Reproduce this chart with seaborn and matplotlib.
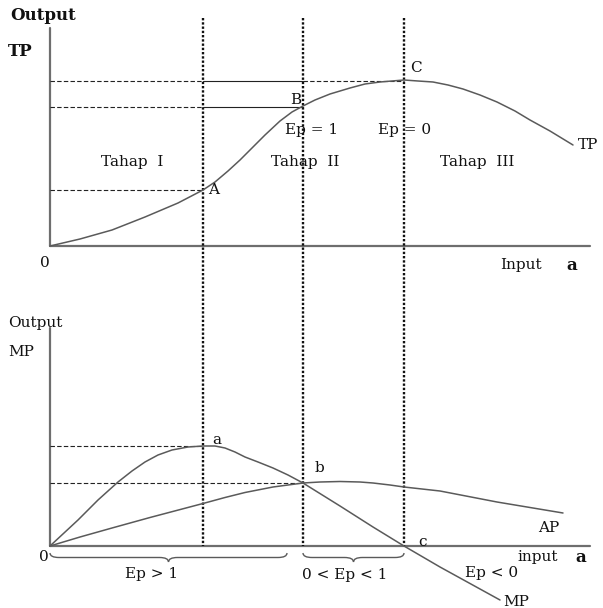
import matplotlib
matplotlib.use("Agg")
import matplotlib.pyplot as plt
import matplotlib.patches as mpatches
from matplotlib.path import Path
import seaborn as sns

# curves (x = input, y = image row, top panel then bottom panel)
TP_X = [50, 80, 112, 145, 178, 203, 215, 228, 240, 252, 265, 280, 292, 303, 315, 330,
        350, 365, 380, 392, 404, 418, 433, 448, 463, 480, 497, 515, 530, 550, 573]
TP_Y = [246, 239, 230, 217, 203, 190, 182, 171, 160, 148, 135, 121, 112, 106, 100, 94,
        88, 84, 82, 81, 80, 81, 82, 85, 89, 95, 102, 111, 120, 131, 145]

MP_X = [50, 64, 78, 98, 118, 132, 145, 158, 172, 188, 203, 215, 225, 235, 245, 258,
        273, 288, 303, 340, 373, 404, 440, 500]
MP_Y = [546, 533, 520, 500, 482, 471, 462, 455, 450, 447, 446, 446, 448, 452, 457, 462,
        468, 475, 483, 506, 527, 546, 567, 600]

AP_X = [50, 80, 112, 150, 203, 225, 245, 273, 303, 320, 340, 360, 373, 390, 404, 440, 497, 563]
AP_Y = [546, 537, 528, 517.5, 503.5, 497.5, 492.5, 487, 483, 482, 481.5, 482, 483, 485, 487, 491, 502, 513]

# key points
PT_A = (203, 190)
PT_B = (303, 107)
PT_C = (404, 81)
PT_a = (203, 446)
PT_b = (303, 483)
PT_c = (404, 546)

STAGES = ["Tahap  I", "Tahap  II", "Tahap  III"]
BRACE_LABELS = ["Ep > 1", "0 < Ep < 1", "Ep < 0"]

# layout
X0, X_END = 50, 590
TOP_BASE, TOP_TOP = 246, 28
BOT_BASE, BOT_TOP = 546, 328
VLINE_TOP = 18

sns.set_theme(style="white")
plt.rcParams["font.family"] = ["DejaVu Serif"]

fig = plt.figure(figsize=(6.03, 6.08), dpi=100)
ax = fig.add_axes([0, 0, 1, 1])
ax.set_xlim(0, 603)
ax.set_ylim(608, 0)
ax.axis("off")

axis_col = "#6e6e6e"
curve_col = "#5a5a5a"
guide_col = "#222222"
dash = (0, (4, 2))

# axes of both panels
for base, top in [(TOP_BASE, TOP_TOP), (BOT_BASE, BOT_TOP)]:
    ax.plot([X0, X0], [base, top], color=axis_col, lw=1.6)
    ax.plot([X0, X_END], [base, base], color=axis_col, lw=1.6)

# vertical stage borders
for px in [PT_A[0], PT_B[0], PT_C[0]]:
    ax.plot([px, px], [VLINE_TOP, BOT_BASE], color="#111111", lw=1.7, ls=(0, (1, 0.8)))

# guide lines, top panel
ax.plot([X0, PT_A[0]], [PT_C[1], PT_C[1]], color=guide_col, lw=0.8, ls=dash)
ax.plot([PT_A[0], PT_B[0]], [PT_C[1], PT_C[1]], color=guide_col, lw=0.8)
ax.plot([PT_B[0], PT_C[0]], [PT_C[1], PT_C[1]], color=guide_col, lw=0.8, ls=dash)
ax.plot([X0, PT_A[0]], [PT_B[1], PT_B[1]], color=guide_col, lw=0.8, ls=dash)
ax.plot([PT_A[0], PT_B[0]], [PT_B[1], PT_B[1]], color=guide_col, lw=0.8)
ax.plot([X0, PT_A[0]], [PT_A[1], PT_A[1]], color=guide_col, lw=0.8, ls=dash)

# guide lines, bottom panel
ax.plot([X0, PT_a[0]], [PT_a[1], PT_a[1]], color=guide_col, lw=0.8, ls=dash)
ax.plot([X0, PT_b[0]], [PT_b[1], PT_b[1]], color=guide_col, lw=0.8, ls=dash)

# curves
sns.lineplot(x=TP_X, y=TP_Y, sort=False, estimator=None, color=curve_col, lw=1.1, ax=ax)
sns.lineplot(x=MP_X, y=MP_Y, sort=False, estimator=None, color=curve_col, lw=1.1, ax=ax)
sns.lineplot(x=AP_X, y=AP_Y, sort=False, estimator=None, color=curve_col, lw=1.1, ax=ax)


def brace(x0, x1, y, h=9):
    xm = (x0 + x1) / 2
    r = min(h, (x1 - x0) / 4)
    verts = [(x0, y), (x0, y + h / 2), (x0 + r, y + h / 2), (xm - r, y + h / 2),
             (xm, y + h / 2), (xm, y + h), (xm, y + h / 2), (xm + r, y + h / 2),
             (x1 - r, y + h / 2), (x1, y + h / 2), (x1, y)]
    codes = [Path.MOVETO, Path.CURVE3, Path.CURVE3, Path.LINETO,
             Path.CURVE3, Path.CURVE3, Path.CURVE3, Path.CURVE3,
             Path.LINETO, Path.CURVE3, Path.CURVE3]
    ax.add_patch(mpatches.PathPatch(Path(verts, codes), fill=False, color=curve_col, lw=1.0))


brace(X0, 287, 553)
brace(PT_b[0], PT_c[0], 553)

fs = 11
ink = "#111111"
txt = dict(color=ink, fontsize=fs, va="center")

# top panel text
ax.text(10, 15, "Output", fontweight="bold", fontsize=12, ha="left", color=ink, va="center")
ax.text(8, 52, "TP", fontweight="bold", fontsize=12, ha="left", color=ink, va="center")
ax.text(45, 263, "0", ha="center", **txt)
ax.text(500, 265, "Input", ha="left", **txt)
ax.text(566, 265, "a", ha="left", fontweight="bold", color=ink, fontsize=fs + 1, va="center")
for cx, lab in zip([132, 305, 477], STAGES):
    ax.text(cx, 162, lab, ha="center", **txt)
ax.text(312, 130, "Ep = 1", ha="center", **txt)
ax.text(405, 130, "Ep = 0", ha="center", **txt)
ax.text(PT_A[0] + 5, PT_A[1], "A", ha="left", **txt)
ax.text(PT_B[0] - 2, PT_B[1] - 7, "B", ha="right", **txt)
ax.text(PT_C[0] + 6, PT_C[1] - 13, "C", ha="left", **txt)
ax.text(TP_X[-1] + 5, TP_Y[-1], "TP", ha="left", **txt)

# bottom panel text
ax.text(8, 323, "Output", ha="left", **txt)
ax.text(8, 352, "MP", ha="left", **txt)
ax.text(44, 557, "0", ha="center", **txt)
ax.text(PT_a[0] + 9, PT_a[1] - 6, "a", ha="left", **txt)
ax.text(PT_b[0] + 12, PT_b[1] - 15, "b", ha="left", **txt)
ax.text(PT_c[0] + 14, PT_c[1] - 4, "c", ha="left", **txt)
ax.text(AP_X[-1] - 25, AP_Y[-1] + 15, "AP", ha="left", **txt)
ax.text(MP_X[-1] + 3, MP_Y[-1] + 2, "MP", ha="left", **txt)
ax.text(517, 557, "input", ha="left", **txt)
ax.text(575, 557, "a", ha="left", fontweight="bold", color=ink, fontsize=fs + 1, va="center")
ax.text(152, 574, BRACE_LABELS[0], ha="center", **txt)
ax.text(345, 575, BRACE_LABELS[1], ha="center", **txt)
ax.text(465, 573, BRACE_LABELS[2], ha="left", **txt)

fig.savefig("out.png", dpi=100)
